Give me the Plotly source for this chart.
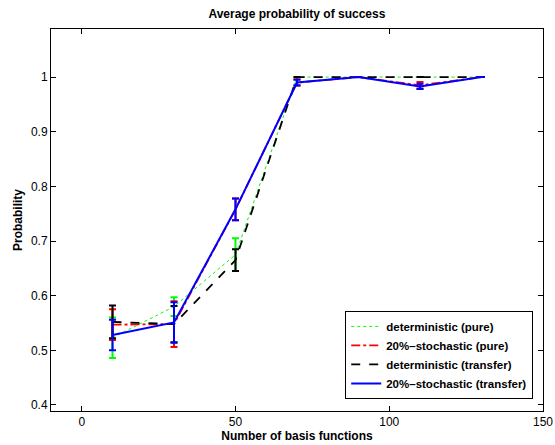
import plotly.graph_objects as go

x_vals = [10, 30, 50, 70, 90, 110, 130]

det_pure = [0.523, 0.580, 0.675, 1.0, 1.0, 1.0, 1.0]
det_pure_err = [0.037, 0.017, 0.030, 0.0, 0.0, 0.0, 0.0]

sto_pure = [0.547, 0.548, 0.758, 0.990, 1.0, 0.985, 1.0]
sto_pure_err = [0.028, 0.042, 0.020, 0.006, 0.0, 0.006, 0.0]

det_trans = [0.552, 0.548, 0.665, 1.0, 1.0, 1.0, 1.0]
det_trans_err = [0.030, 0.033, 0.020, 0.0, 0.0, 0.0, 0.0]

sto_trans = [0.528, 0.551, 0.758, 0.990, 1.0, 0.983, 1.0]
sto_trans_err = [0.028, 0.037, 0.020, 0.005, 0.0, 0.005, 0.0]

names = ["deterministic (pure)", "20%\u2013stochastic (pure)",
         "deterministic (transfer)", "20%\u2013stochastic (transfer)"]

series = [
    (det_pure, det_pure_err, "#00ff00", "dot", 1),
    (sto_pure, sto_pure_err, "#ff0000", "dashdot", 1.8),
    (det_trans, det_trans_err, "#000000", "dash", 1.8),
    (sto_trans, sto_trans_err, "#0000ff", "solid", 2),
]

fig = go.Figure()
for name, (y, e, c, d, w) in zip(names, series):
    fig.add_trace(go.Scatter(
        x=x_vals, y=y, name="<b>" + name + "</b>", mode="lines",
        line=dict(color=c, dash=d, width=w),
        error_y=dict(type="data", array=e, visible=True, color=c, thickness=2, width=3.5),
    ))

font = "Liberation Sans, Arial, Helvetica, sans-serif"
axis_common = dict(
    showline=True, linecolor="black", linewidth=1, mirror="allticks",
    ticks="inside", ticklen=5, tickcolor="black", showgrid=False, zeroline=False,
    automargin=False,
    tickfont=dict(family=font, size=12, color="black"),
)
fig.update_layout(
    width=555, height=445,
    margin=dict(l=51, r=12, t=29, b=34, autoexpand=False),
    paper_bgcolor="white", plot_bgcolor="white",
    title=dict(text="<b>Average probability of success</b>", x=0.535, xanchor="center",
               y=1 - 14/445, yanchor="middle", font=dict(family=font, size=12, color="black")),
    xaxis=dict(range=[-10, 150], tickvals=[0, 50, 100, 150],
               title=dict(text="<b>Number of basis functions</b>", standoff=1,
                          font=dict(family=font, size=12, color="black")),
               **axis_common),
    yaxis=dict(range=[0.389, 1.088], tickvals=[0.4, 0.5, 0.6, 0.7, 0.8, 0.9, 1.0],
               ticktext=["0.4", "0.5", "0.6", "0.7", "0.8", "0.9", "1"],
               title=dict(text="<b>Probability</b>", standoff=5,
                          font=dict(family=font, size=12, color="black")),
               **axis_common),
    legend=dict(x=0.598, y=0.262, xanchor="left", yanchor="top",
                bordercolor="black", borderwidth=1, bgcolor="white",
                font=dict(family=font, size=11.5, color="black"),
                tracegroupgap=0, itemwidth=30),
    showlegend=True,
)
fig.write_html("out.html", config={"displayModeBar": False},
               post_script="document.body.style.margin='0';document.body.style.overflow='hidden';")
